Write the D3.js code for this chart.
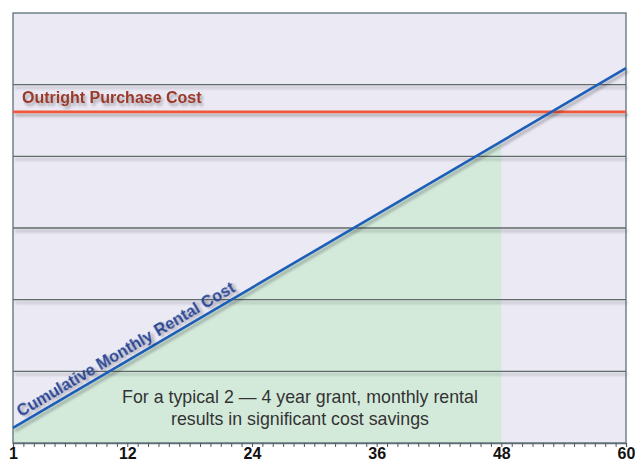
<!DOCTYPE html>
<html><head><meta charset="utf-8">
<script src="https://cdn.jsdelivr.net/npm/d3@7"></script>
<style>body{margin:0;background:#fff}svg{display:block;font-family:"Liberation Sans",Arial,sans-serif}</style>
</head><body><svg id="c" width="635" height="463"></svg>
<script>
const months = d3.range(1, 61);
const tickLabels = [1, 12, 24, 36, 48, 60];
const rentalMonths = [1, 60];
const rentalCost = [21, 523];
const purchaseCost = 462;
const savingsEndMonth = 48;
const gridValues = [100, 200, 300, 400, 500];
const purchaseLabel = "Outright Purchase Cost";
const rentalLabel = "Cumulative Monthly Rental Cost";
const noteLines = ["For a typical 2 \u2014 4 year grant, monthly rental", "results in significant cost savings"];

const svg = d3.select("#c");
const L = 13, R = 626, T = 13, B = 443;
const x = d3.scaleLinear().domain([1, 60]).range([L, R]);
const y = d3.scaleLinear().domain([0, 600]).range([B, T]);

const defs = svg.append("defs");
const f = defs.append("filter").attr("id","sh").attr("filterUnits","userSpaceOnUse")
  .attr("x",-1000).attr("y",-1000).attr("width",3000).attr("height",3000);
f.append("feGaussianBlur").attr("in","SourceAlpha").attr("stdDeviation",1.6).attr("result","b");
f.append("feOffset").attr("in","b").attr("dx",1.5).attr("dy",2.5).attr("result","o");
f.append("feComponentTransfer").attr("in","o").attr("result","o2").append("feFuncA").attr("type","linear").attr("slope",0.3);
const m = f.append("feMerge"); m.append("feMergeNode").attr("in","o2"); m.append("feMergeNode").attr("in","SourceGraphic");

svg.append("rect").attr("x",L).attr("y",T).attr("width",R-L).attr("height",B-T).attr("fill","#ebe9f4");

const rl = d3.scaleLinear().domain(rentalMonths).range(rentalCost);
const areaMonths = [1, savingsEndMonth];
const area = d3.area().x(d=>x(d)).y0(y(0)).y1(d=>y(rl(d)));
svg.append("path").datum(areaMonths).attr("d",area).attr("fill","#d3eadb");

svg.append("g").selectAll("line").data(gridValues).join("line")
  .attr("x1",L).attr("x2",R).attr("y1",d=>y(d)).attr("y2",d=>y(d))
  .attr("stroke","#626a6a").attr("stroke-width",1.3).attr("filter","url(#sh)");

svg.append("rect").attr("x",L).attr("y",T).attr("width",R-L).attr("height",B-T).attr("fill","none").attr("stroke","#5f7078").attr("stroke-width",1.3);

svg.append("line").attr("x1",L).attr("x2",R).attr("y1",y(purchaseCost)).attr("y2",y(purchaseCost))
  .attr("stroke","#f0583a").attr("stroke-width",2.6).attr("filter","url(#sh)");
svg.append("text").attr("x",22).attr("y",y(purchaseCost)-9).text(purchaseLabel)
  .attr("font-size",16).attr("font-weight","bold").attr("fill","#9a3a2c").attr("filter","url(#sh)");

const line = d3.line().x(d=>x(d)).y(d=>y(rl(d)));
svg.append("path").datum(rentalMonths).attr("d",line).attr("fill","none")
  .attr("stroke","#1f5fb8").attr("stroke-width",2.6).attr("filter","url(#sh)");

const p0 = [x(1), y(rentalCost[0])], p1 = [x(60), y(rentalCost[1])];
const ang = Math.atan2(p1[1]-p0[1], p1[0]-p0[0]) * 180/Math.PI;
const lx = 21, ly = y(rl(1 + (lx - L)/(R-L)*59)) - 6;
svg.append("text").attr("transform",`translate(${lx},${ly}) rotate(${ang})`).text(rentalLabel)
  .attr("font-size",16.3).attr("font-weight","bold").attr("fill","#2a4591").attr("filter","url(#sh)");

svg.append("g").selectAll("text").data(noteLines).join("text")
  .attr("x",300).attr("y",(d,i)=>403+i*22).attr("text-anchor","middle")
  .attr("font-size",17.8).attr("fill","#333").text(d=>d);

const ax = d3.axisBottom(x).tickValues(months).tickSize(4).tickFormat(d=>tickLabels.includes(d)?d:"");
const g = svg.append("g").attr("transform",`translate(0,${B})`).call(ax);
g.select(".domain").attr("stroke","#5f7078").attr("stroke-width",1.3);
g.selectAll(".tick line").attr("stroke","#555");
g.selectAll(".tick text").attr("font-size",16).attr("font-weight","bold").attr("fill","#111")
  .attr("font-family","'Liberation Sans',Arial,sans-serif").attr("dy",null).attr("y",16);
</script></body></html>
